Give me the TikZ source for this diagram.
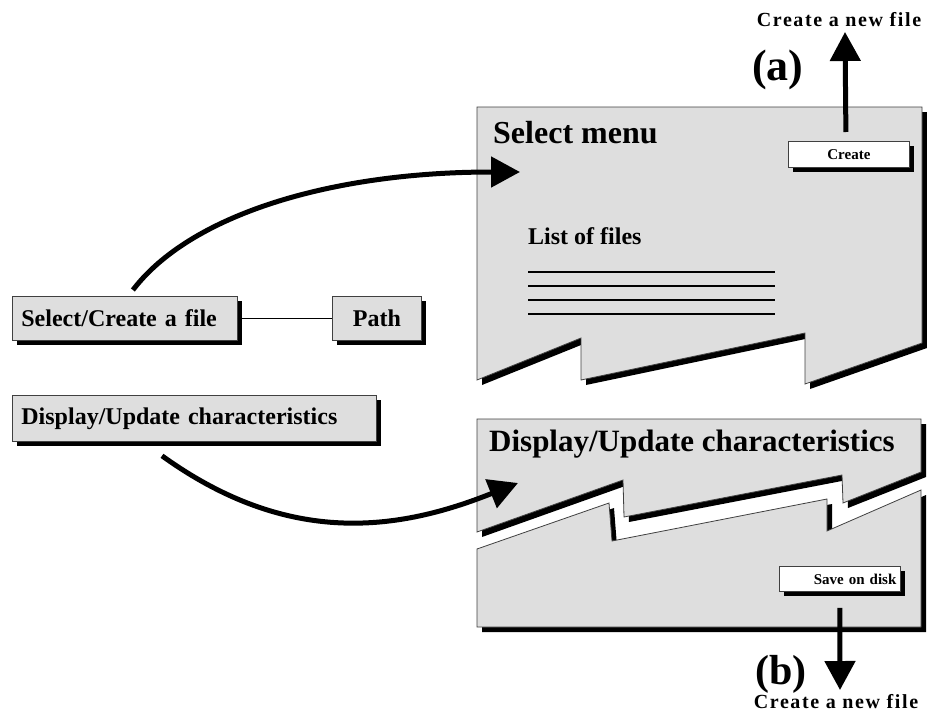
\documentclass[tikz,border=0pt]{standalone}
\usepackage{fontspec}
\setmainfont{Liberation Serif}
\usetikzlibrary{arrows.meta,shadows}

\definecolor{panelgray}{HTML}{DEDEDE}
\newcommand\fsz[1]{\fontsize{#1}{#1}\selectfont}

\tikzset{
  hardshadow/.style={drop shadow={shadow xshift=5pt,shadow yshift=-5pt,opacity=1,fill=black}},
  panel/.style={fill=panelgray, draw=black!75, line width=0.8pt, hardshadow},
  graybox/.style={panel, rectangle, inner sep=0pt, font=\bfseries\fsz{24}},
  btn/.style={fill=white, draw=black!75, line width=0.8pt, hardshadow, rectangle, inner sep=0pt},
  bigarrow/.style={line width=5pt, -{Triangle[length=29pt,width=30pt]}},
  listline/.style={line width=2.6pt},
  title/.style={font=\bfseries\fsz{#1}, inner sep=0pt, anchor=base west},
  spaced/.style={font=\bfseries\fsz{20}\addfontfeature{LetterSpace=8}, inner sep=0pt, anchor=base}
}

\begin{document}
\begin{tikzpicture}[x=1pt,y=-1pt]
\useasboundingbox (0,0) rectangle (927,712);

% --- "Select menu" window with torn bottom edge
\path[panel] (477,107) -- (922,107) -- (922,343) -- (805,384) -- (805,333)
  -- (581,380) -- (581,338) -- (477,380) -- cycle;

% --- "Display/Update characteristics" window, split in two pieces
\path[panel] (477,419) -- (921,419) -- (921,472) -- (843,503) -- (842,475)
  -- (624,517) -- (623,480) -- (477,532) -- cycle;
\path[panel] (477,549) -- (609,503) -- (612,541) -- (827,499) -- (827,531)
  -- (921,490) -- (921,627) -- (477,627) -- cycle;

% --- window contents
\node[title=32] (selmenu) at (493,143) {Select menu};
\node[title=24] (listf) at (528,244) {List of files};
\foreach \yy in {272,286,300,314}
  \draw[listline] (528,\yy) -- (775,\yy);
\node[title=31] (disptitle) at (489,451) {Display/Update characteristics};

\node[btn, anchor=north west, minimum width=121pt, minimum height=26pt,
      font=\bfseries\fsz{15}] (create) at (788,141) {Create};
\node[btn, anchor=north west, minimum width=121pt, minimum height=25pt,
      text width=113pt, align=right, font=\bfseries\fsz{15}] (save) at (779,566) {Save on disk};

% --- menu items on the left
\node[graybox, anchor=north west, minimum width=225pt, minimum height=44pt,
      text width=207pt, align=left] (sel) at (12,296) {Select/Create a file};
\node[graybox, anchor=north west, minimum width=89pt, minimum height=44pt] (path) at (332,296) {Path};
\node[graybox, anchor=north west, minimum width=364pt, minimum height=46pt,
      text width=346pt, align=left] (disp) at (12,395) {Display/Update characteristics};
\draw[line width=1.8pt] (sel.east) -- (path.west);

% --- labels (a) and (b)
\node[spaced] (newA) at (839,26) {Create a new file};
\node[title=44] (labA) at (752,80) {(a)};
\node[spaced] (newB) at (836,708) {Create a new file};
\node[title=42] (labB) at (755,684) {(b)};

% --- arrows
\coordinate (selIn) at (520,172);
\coordinate (dispIn) at (518,483);
\coordinate (upTip) at (845,32);
\coordinate (downTip) at (840,690);

\draw[bigarrow] ([shift={(8,-6)}]sel.north) .. controls (190,215) and (330,172) .. (selIn);
\draw[bigarrow] ([shift={(150,14)}]disp.south west) .. controls (290,548) and (400,530) .. (dispIn);
\draw[bigarrow] ([shift={(-3,-9)}]create.north) -- (upTip);
\draw[bigarrow] ([shift={(0,16)}]save.south) -- (downTip);
\end{tikzpicture}
\end{document}
